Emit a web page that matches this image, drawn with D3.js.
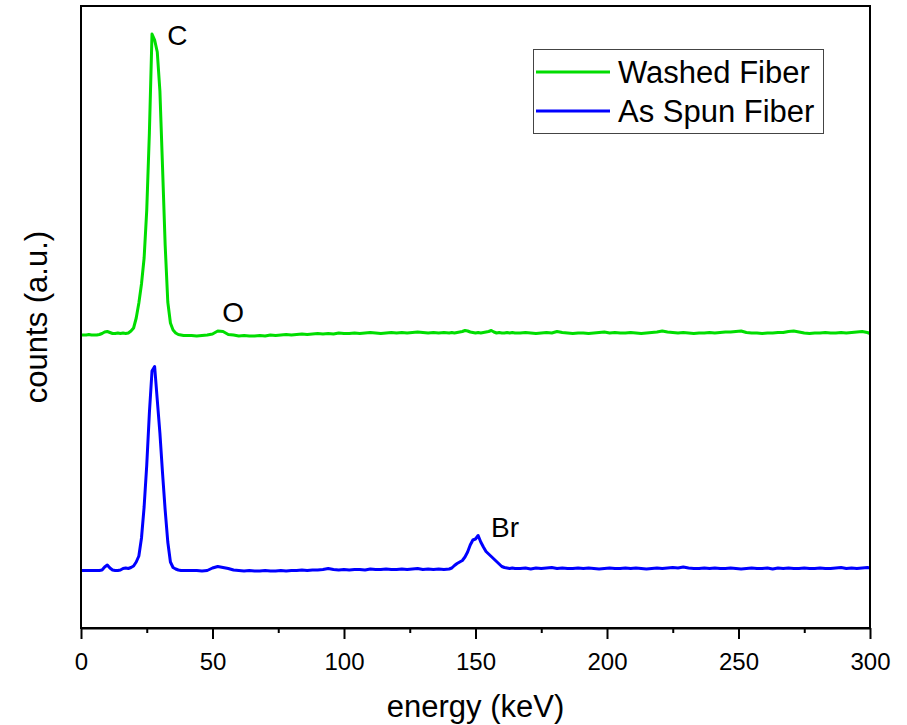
<!DOCTYPE html>
<html>
<head>
<meta charset="utf-8">
<script src="https://cdn.jsdelivr.net/npm/d3@7"></script>
<style>
  html, body { margin: 0; padding: 0; background: #fff; }
  svg { display: block; font-family: Arial, "Liberation Sans", sans-serif; }
</style>
</head>
<body>
<svg id="chart" width="907" height="725"></svg>
<script>
// ---- Data (y values are in stacked, arbitrary count units) ----
const energy = [
  0,1,2,3,4,5,6,7,8,9,10,11,12,13,14,15,16,17,18,19,20,21,22,23,24,25,26,27,28,29,30,31,32,33,34,35,36,37,38,39,40,
  42,44,46,48,50,52,54,56,58,60,62,64,66,68,70,72,74,76,78,80,82,84,86,88,90,92,94,96,98,100,
  102,104,106,108,110,112,114,116,118,120,122,124,126,128,130,132,134,136,138,140,
  141,142,143,144,145,146,147,148,149,150,151,152,153,154,155,156,157,158,159,160,161,162,163,164,165,
  167,169,171,173,175,177,179,181,183,185,187,189,191,193,195,197,199,201,203,205,
  207,209,211,213,215,217,219,221,223,225,227,229,231,233,235,237,239,241,243,245,
  247,249,251,253,255,257,259,261,263,265,267,269,271,273,275,277,279,281,283,285,
  287,289,291,293,295,297,299,300
];

const washedFiber = [
  293,293,293,293.5,293,293,293,293.5,294.5,296,296.5,295.5,294.5,294.5,295,294.5,295,294.5,295,297,
  300,310,325,344,370,418,495,594,588,576,537,461,383,326,305,298,295,293.5,293,292.5,292.5,
  292.5,292,292.5,293,294,297,296.5,293.5,293,292,
  292.5,292,292,292.5,292,293,292.5,293,293.5,293,
  293.5,294,293.5,294,294.5,294,294.5,294,295,294.5,
  294.5,295,294.5,295,295.5,295,294.5,295,295.5,295,
  295.5,295,295.5,296,295.5,295,295.5,295,295.5,295,
  295.5,295,295.5,296,296.5,297.5,297,296,295.5,295,295.5,295,295.5,296,296.5,297.5,296,295,295.5,295,295,295.5,295,295.5,295,
  295,295.5,295,294.5,295,295.5,295,296.5,295.5,295,
  294.5,295,295,294.5,295,295.5,296,295,295.5,295,
  295,295.5,295,294.5,295,295.5,296,297,296,295.5,
  295,295.5,295,294.5,295,295,295.5,295,295.5,296,
  296,296.5,297,295.5,295,295,294.5,295,295,295.5,
  295.5,296.5,297,296,295,294.5,295,295,295.5,295,
  295,295.5,295,295.5,296,296.5,295.5,294.5
];

const asSpunFiber = [
  57.5,57.5,57.5,57.5,57.5,57.5,57.5,57.5,58,61,63,60,58,57.5,57.5,58,59.5,60,59.5,60.5,
  62,66,72,90,121,163,215,257,261.5,228,195,155,118,86,66,60.5,59,58,57.5,57.5,57.5,
  57.5,57.5,57,57.5,60,61.5,60.5,59.5,58,57.5,
  57,57.5,57,57,57.5,57,57,57.5,57,57.5,
  57.5,58,57.5,58,58,58.5,59.5,58.5,58,58.5,
  58,58.5,58.5,58,59,58.5,58.5,59,58.5,58.5,
  59,58.5,59,59.5,58.5,59,58.5,59,58.5,59,
  60,62.5,64.5,66,67.5,71,76,83,88,89,92.5,86,81,76.5,74,71.5,69,66.5,64,61.5,60.5,60,59.5,60,59.5,
  59.5,60,59,60,59.5,60,60.5,59.5,60,59.5,
  59.5,60,59.5,60,59.5,59,59.5,60,59.5,59.5,
  60,59.5,60,59.5,59,59.5,60,59.5,60,60.5,
  60,61,60,59.5,59.5,60,59.5,60,59.5,59.5,
  60,59.5,59,59.5,60,59.5,59.5,60,59,60,
  59.5,60,59.5,59.5,60,59.5,59.5,60,59.5,59.5,
  60,60.5,59.5,60,59.5,60,60.5,60
];

const seriesNames = ["Washed Fiber", "As Spun Fiber"];
const seriesColors = ["#00dd00", "#0000ff"];
const majorTicks = [0, 50, 100, 150, 200, 250, 300];
const minorTicks = [25, 75, 125, 175, 225, 275];
const peakLabels = ["C", "O", "Br"];
const peakEnergy = [32.8, 53.7, 155.9];
const peakValue = [583, 306, 91];

// ---- Layout ----
const svg = d3.select("#chart");
const plotLeft = 81, plotRight = 870, plotTop = 6, plotBottom = 628;

const x = d3.scaleLinear().domain([0, 300]).range([plotLeft, plotRight]);
const y = d3.scaleLinear().domain([0, 622]).range([plotBottom, plotTop]);

const line = d3.line()
  .x((d, i) => x(energy[i]))
  .y(d => y(d));

[washedFiber, asSpunFiber].forEach((vals, k) => {
  svg.append("path")
    .datum(vals)
    .attr("fill", "none")
    .attr("stroke", seriesColors[k])
    .attr("stroke-width", 3)
    .attr("stroke-linejoin", "round")
    .attr("d", line);
});

// Frame
svg.append("rect")
  .attr("x", plotLeft).attr("y", plotTop)
  .attr("width", plotRight - plotLeft).attr("height", plotBottom - plotTop)
  .attr("fill", "none").attr("stroke", "#000").attr("stroke-width", 2);

// Bottom axis (major)
const axMajor = svg.append("g")
  .attr("transform", `translate(0,${plotBottom})`)
  .call(d3.axisBottom(x).tickValues(majorTicks).tickSize(11).tickPadding(14).tickSizeOuter(0));
axMajor.select(".domain").attr("stroke-width", 2);
axMajor.selectAll(".tick line").attr("stroke-width", 2);
axMajor.selectAll(".tick text")
  .attr("font-size", 24)
  .attr("font-family", "Arial, 'Liberation Sans', sans-serif")
  .attr("fill", "#000");

// Bottom axis (minor)
const axMinor = svg.append("g")
  .attr("transform", `translate(0,${plotBottom})`)
  .call(d3.axisBottom(x).tickValues(minorTicks).tickSize(5).tickFormat(""));
axMinor.select(".domain").remove();
axMinor.selectAll(".tick line").attr("stroke-width", 2);

// Axis titles
svg.append("text")
  .attr("x", (plotLeft + plotRight) / 2).attr("y", 717)
  .attr("text-anchor", "middle")
  .attr("font-size", 31)
  .text("energy (keV)");

svg.append("text")
  .attr("transform", `translate(47,${(plotTop + plotBottom) / 2}) rotate(-90)`)
  .attr("text-anchor", "middle")
  .attr("font-size", 31)
  .text("counts (a.u.)");

// Peak labels
peakLabels.forEach((lab, i) => {
  svg.append("text")
    .attr("x", x(peakEnergy[i]))
    .attr("y", y(peakValue[i]))
    .attr("font-size", 28)
    .text(lab);
});

// Legend
const legend = svg.append("g");
legend.append("rect")
  .attr("x", 533.5).attr("y", 49.5).attr("width", 290).attr("height", 84)
  .attr("fill", "#fff").attr("stroke", "#444").attr("stroke-width", 1);
seriesNames.forEach((name, k) => {
  const ly = 72 + k * 39;
  legend.append("line")
    .attr("x1", 536).attr("x2", 610).attr("y1", ly).attr("y2", ly)
    .attr("stroke", seriesColors[k]).attr("stroke-width", 3);
  legend.append("text")
    .attr("x", 618).attr("y", ly + 11)
    .attr("font-size", 31)
    .text(name);
});
</script>
</body>
</html>
